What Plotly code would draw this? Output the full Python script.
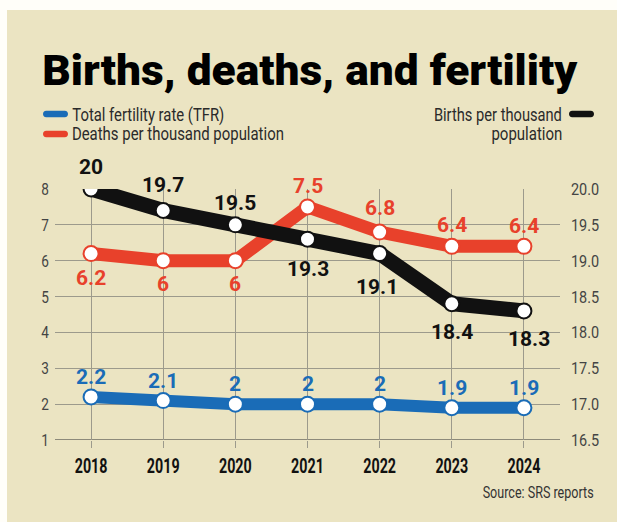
import json
import plotly.graph_objects as go

years = [2018, 2019, 2020, 2021, 2022, 2023, 2024]
tfr = [2.2, 2.1, 2, 2, 2, 1.9, 1.9]
deaths = [6.2, 6, 6, 7.5, 6.8, 6.4, 6.4]
births = [20, 19.7, 19.5, 19.3, 19.1, 18.4, 18.3]

title_text = "Births, deaths, and fertility"
legend_tfr = "Total fertility rate (TFR)"
legend_deaths = "Deaths per thousand population"
legend_births_1 = "Births per thousand"
legend_births_2 = "population"
source_text = "Source: SRS reports"

BLUE = "#1A6CB7"
RED = "#E8412B"
BLACK = "#111111"
BEIGE = "#EBE4C2"
GRID = "#9C9A8C"
FONT = "Roboto, Liberation Sans, sans-serif"

W, H = 617, 522
L, R, T, B = 55, 560, 189, 440


def px(p):
    return (p - L) / (R - L)


def py(p):
    return (B - p) / (B - T)


fig = go.Figure()


def add_series(y, color, width, axis):
    fig.add_trace(go.Scatter(
        x=years, y=y, mode="lines+markers", yaxis=axis,
        line=dict(color=color, width=width),
        marker=dict(size=15, color="white", line=dict(color=color, width=2)),
        showlegend=False, hoverinfo="skip"))


add_series(tfr, BLUE, 12, "y")
add_series(deaths, RED, 13, "y")
add_series(births, BLACK, 15, "y2")

ann = []


def lab_font(c):
    return dict(family=FONT, size=21, color=c, weight="bold")


tfr_shift = [20, 20, 20, 20, 20, 20, 20]
for x, v, s in zip(years, tfr, tfr_shift):
    ann.append(dict(x=x, y=v, xref="x", yref="y", text=f"{v:g}", showarrow=False,
                    yshift=s, font=lab_font(BLUE)))
death_shift = [-24, -23, -23, 21, 24, 21, 20]
for x, v, s in zip(years, deaths, death_shift):
    ann.append(dict(x=x, y=v, xref="x", yref="y", text=f"{v:g}", showarrow=False,
                    yshift=s, font=lab_font(RED)))
birth_shift = [22, 26, 22, -30, -33, -28, -28]
birth_xshift = [0, 0, 0, 0, -3, 0, 5]
for x, v, s, xs in zip(years, births, birth_shift, birth_xshift):
    ann.append(dict(x=x, y=v, xref="x", yref="y2", text=f"{v:g}", showarrow=False,
                    yshift=s, xshift=xs, font=lab_font(BLACK)))


def text_ann(cx, cy, txt, size, color, weight="normal"):
    ann.append(dict(x=px(cx), y=py(cy), xref="paper", yref="paper", xanchor="center",
                    yanchor="middle", text=txt, showarrow=False,
                    font=dict(family=FONT, size=size, color=color, weight=weight)))


text_ann(310, 70, title_text, 42, "#000000", 900)
text_ann(148, 114, legend_tfr, 19, "#2a2a2a")
text_ann(178, 133, legend_deaths, 19, "#2a2a2a")
text_ann(498, 114, legend_births_1, 19, "#2a2a2a")
text_ann(526.5, 133, legend_births_2, 19, "#2a2a2a")
text_ann(537.5, 492, source_text, 17, "#333333")

# target widths (px) of the condensed texts in the reference
target_widths = {
    title_text: 535,
    legend_tfr: 152,
    legend_deaths: 212,
    legend_births_1: 128,
    legend_births_2: 71,
    source_text: 111,
}

shapes = [dict(type="rect", xref="paper", yref="paper", x0=px(7), x1=px(640), y0=py(540), y1=py(10),
               fillcolor=BEIGE, line=dict(width=0), layer="below")]


def pill(cx, cy, color, w=25, h=6.5):
    a = w / 2 - h / 2
    r = h / 2
    k = r * 4 / 3
    path = (f"M {-a},{-r} L {a},{-r} C {a + k},{-r} {a + k},{r} {a},{r} "
            f"L {-a},{r} C {-a - k},{r} {-a - k},{-r} {-a},{-r} Z")
    return dict(type="path", xref="paper", yref="paper", xsizemode="pixel", ysizemode="pixel",
                xanchor=px(cx), yanchor=py(cy), path=path, fillcolor=color, line=dict(width=0))


shapes += [pill(55.5, 114, BLUE), pill(55.5, 134, RED), pill(581.5, 114, BLACK)]
shapes.append(dict(type="line", xref="paper", yref="y", x0=0, x1=1, y0=1, y1=1,
                   line=dict(color="#6E6C62", width=1.5), layer="below"))

fig.update_layout(
    width=W, height=H,
    margin=dict(l=L, r=W - R, t=T, b=H - B, pad=0),
    paper_bgcolor="#FFFEF9", plot_bgcolor="rgba(0,0,0,0)",
    annotations=ann, shapes=shapes,
    xaxis=dict(range=[2017.5, 2024.5], tickvals=years, ticktext=[str(y) for y in years],
               showgrid=True, gridcolor=GRID, gridwidth=1, zeroline=False,
               ticks="outside", ticklen=7, tickcolor=GRID, tickwidth=1,
               showline=False,
               tickfont=dict(family=FONT, size=21, color="#111111", weight="bold")),
    yaxis=dict(range=[1, 8], dtick=1, tick0=1, showgrid=True, gridcolor=GRID, gridwidth=1,
               zeroline=False, ticks="", ticklabelstandoff=5,
               tickfont=dict(family=FONT, size=17, color="#444444")),
    yaxis2=dict(range=[16.5, 20], dtick=0.5, tick0=16.5, tickformat=".1f", overlaying="y",
                side="right", showgrid=False, zeroline=False, ticks="", ticklabelstandoff=10,
                tickfont=dict(family=FONT, size=17, color="#444444")),
    font=dict(family=FONT),
)

post = """
document.body.style.margin = '0';
document.body.style.overflow = 'hidden';
var gd = document.getElementById('{plot_id}');
var targets = TARGETS;
gd.querySelectorAll('text').forEach(function (t) {
  var s = t.textContent;
  var w = t.getComputedTextLength();
  var tw = null;
  if (targets.hasOwnProperty(s)) { tw = targets[s]; }
  else if (t.closest('.xtick')) { tw = w * 0.68; }
  else if (t.closest('.ytick')) { tw = w * 0.8; }
  else if (t.closest('.y2tick')) { tw = w * 0.85; }
  if (tw) { t.setAttribute('textLength', tw); t.setAttribute('lengthAdjust', 'spacingAndGlyphs'); }
});
""".replace("TARGETS", json.dumps(target_widths))

fig.write_html("out.html", post_script=post, config={"displayModeBar": False})
